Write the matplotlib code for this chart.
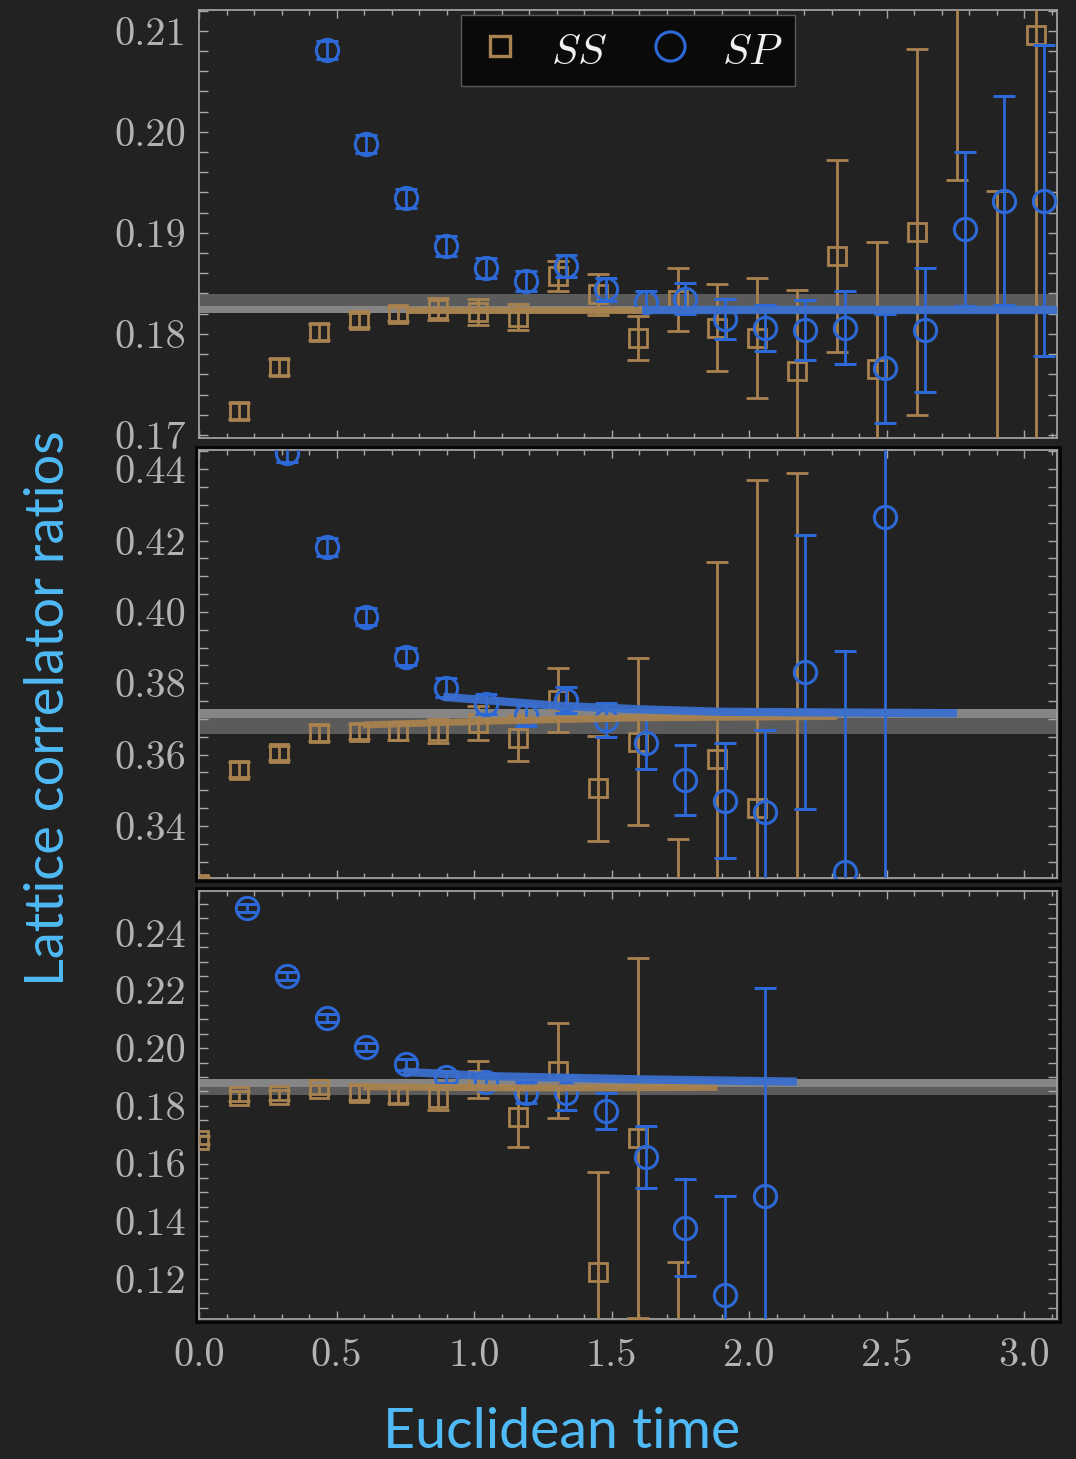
import matplotlib.pyplot as plt
from matplotlib.lines import Line2D
from matplotlib.patches import Rectangle
from matplotlib.ticker import MultipleLocator, FormatStrFormatter

plt.rcParams['mathtext.fontset'] = 'cm'
plt.rcParams['axes.formatter.use_mathtext'] = True

BG = '#222222'
TAN = '#a8824f'
BLUE = '#2d69d6'
TICK = '#b3b3b3'
LABEL = '#4fbaf5'

# ---- top panel ----
ss1_t = [0.145, 0.29, 0.435, 0.58, 0.725, 0.87, 1.015, 1.16, 1.305, 1.45, 1.595,
         1.74, 1.885, 2.03, 2.175, 2.32, 2.465, 2.61, 2.755, 2.9, 3.045]
ss1_y = [0.1724, 0.1767, 0.1802, 0.1814, 0.1820, 0.1825, 0.1822, 0.1817, 0.1857, 0.1839, 0.1796,
         0.1834, 0.1806, 0.1796, 0.1763, 0.1877, 0.1765, 0.1901, 0.2145, 0.1650, 0.2096]
ss1_e = [0.0008, 0.0008, 0.0008, 0.0007, 0.0007, 0.0011, 0.0013, 0.0013, 0.0015, 0.0020, 0.0022,
         0.0031, 0.0043, 0.0059, 0.0080, 0.0095, 0.0126, 0.0181, 0.0193, 0.0291, 0.0450]
sp1_t = [0.464, 0.609, 0.754, 0.899, 1.044, 1.189, 1.334, 1.479, 1.624, 1.769,
         1.914, 2.059, 2.204, 2.349, 2.494, 2.639, 2.784, 2.929, 3.074]
sp1_y = [0.2081, 0.1988, 0.1934, 0.1887, 0.1865, 0.1852, 0.1867, 0.1844, 0.1832, 0.1835,
         0.1815, 0.1806, 0.1804, 0.1806, 0.1766, 0.1804, 0.1904, 0.1932, 0.1932]
sp1_e = [0.0009, 0.0009, 0.0009, 0.0010, 0.0010, 0.0010, 0.0011, 0.0011, 0.0010, 0.0015,
         0.0020, 0.0023, 0.0030, 0.0036, 0.0054, 0.0061, 0.0076, 0.0103, 0.0154]
fit_ss1_t = [0.755, 1.61]
fit_ss1_y = [0.1824, 0.1824]
fit_sp1_t = [1.61, 3.2]
fit_sp1_y = [0.1824, 0.1824]
band1 = (0.18205, 0.18393)
band1_inner = (0.18205, 0.18277)

# ---- middle panel ----
ss2_t = [0.0, 0.145, 0.29, 0.435, 0.58, 0.725, 0.87, 1.015, 1.16, 1.305, 1.45,
         1.595, 1.74, 1.885, 2.03, 2.175]
ss2_y = [0.3237, 0.3557, 0.3605, 0.3660, 0.3664, 0.3666, 0.3667, 0.3688, 0.3646, 0.3753, 0.3505,
         0.3636, 0.3100, 0.3588, 0.3449, 0.3190]
ss2_e = [0.0020, 0.0021, 0.0020, 0.0023, 0.0021, 0.0026, 0.0034, 0.0047, 0.0065, 0.0090, 0.0146,
         0.0234, 0.0262, 0.0552, 0.0920, 0.1199]
sp2_t = [0.319, 0.464, 0.609, 0.754, 0.899, 1.044, 1.189, 1.334, 1.479, 1.624,
         1.769, 1.914, 2.059, 2.204, 2.349, 2.494]
sp2_y = [0.4445, 0.4183, 0.3987, 0.3875, 0.3788, 0.3742, 0.3711, 0.3753, 0.3697, 0.3633,
         0.3529, 0.3471, 0.3438, 0.3831, 0.3270, 0.4267]
sp2_e = [0.0025, 0.0025, 0.0025, 0.0025, 0.0027, 0.0027, 0.0030, 0.0037, 0.0049, 0.0072,
         0.0097, 0.0161, 0.0231, 0.0384, 0.0621, 0.1100]
fit_ss2_t = [0.596, 1.06, 1.60, 2.32]
fit_ss2_y = [0.3683, 0.3694, 0.3703, 0.3707]
fit_sp2_t = [0.888, 1.30, 1.60, 1.895, 2.756]
fit_sp2_y = [0.3762, 0.3737, 0.3727, 0.3720, 0.3716]
band2 = (0.36569, 0.3727)
band2_inner = (0.3702, 0.3727)

# ---- bottom panel ----
ss3_t = [0.0, 0.145, 0.29, 0.435, 0.58, 0.725, 0.87, 1.015, 1.16, 1.305, 1.45, 1.595, 1.74]
ss3_y = [0.1682, 0.1834, 0.1838, 0.1857, 0.1846, 0.1838, 0.1826, 0.1890, 0.1760, 0.1922,
         0.1223, 0.1688, 0.0900]
ss3_e = [0.0015, 0.0017, 0.0017, 0.0017, 0.0025, 0.0028, 0.0040, 0.0064, 0.0102, 0.0165,
         0.0349, 0.0623, 0.0360]
sp3_t = [0.174, 0.319, 0.464, 0.609, 0.754, 0.899, 1.044, 1.189, 1.334, 1.479,
         1.624, 1.769, 1.914, 2.059]
sp3_y = [0.2485, 0.2250, 0.2106, 0.2005, 0.1944, 0.1901, 0.1884, 0.1846, 0.1844, 0.1782,
         0.1622, 0.1378, 0.1145, 0.1488]
sp3_e = [0.0014, 0.0014, 0.0014, 0.0014, 0.0020, 0.0020, 0.0025, 0.0036, 0.0058, 0.0062,
         0.0107, 0.0167, 0.0344, 0.0720]
fit_ss3_t = [0.597, 1.20, 1.885]
fit_ss3_y = [0.1866, 0.1862, 0.1864]
fit_sp3_t = [0.743, 1.058, 1.592, 2.174]
fit_sp3_y = [0.1918, 0.1903, 0.1892, 0.1884]
band3 = (0.18376, 0.1892)
band3_inner = (0.18644, 0.1892)

ylims = [(0.1697, 0.21205), (0.3254, 0.4454), (0.1061, 0.2545)]
ymajor = [0.01, 0.02, 0.02]
yminor = [0.002, 0.005, 0.005]

panels = [
    (ss1_t, ss1_y, ss1_e, sp1_t, sp1_y, sp1_e, fit_ss1_t, fit_ss1_y, fit_sp1_t, fit_sp1_y, band1, band1_inner),
    (ss2_t, ss2_y, ss2_e, sp2_t, sp2_y, sp2_e, fit_ss2_t, fit_ss2_y, fit_sp2_t, fit_sp2_y, band2, band2_inner),
    (ss3_t, ss3_y, ss3_e, sp3_t, sp3_y, sp3_e, fit_ss3_t, fit_ss3_y, fit_sp3_t, fit_sp3_y, band3, band3_inner),
]

W, H = 1076, 1459
fig = plt.figure(figsize=(W / 100, H / 100), dpi=100, facecolor=BG)

# panel boxes in pixels: (top, bottom)
boxes = [(10, 438), (450, 878), (891, 1319)]
left_px, right_px = 199, 1057

axes = []
for i, (top, bot) in enumerate(boxes):
    ax = fig.add_axes([left_px / W, 1 - bot / H, (right_px - left_px) / W, (bot - top) / H])
    ax.set_facecolor(BG)
    axes.append(ax)

    (s_t, s_y, s_e, p_t, p_y, p_e, fs_t, fs_y, fp_t, fp_y, band, inner) = panels[i]

    # plateau band
    ax.axhspan(band[0], band[1], color='#5b5b5b', lw=0, zorder=1)
    ax.axhspan(inner[0], inner[1], color='#858585', lw=0, zorder=1.1)

    ax.errorbar(s_t, s_y, yerr=s_e, fmt='s', ms=13.5, mfc='none', mec=TAN, mew=2.0,
                ecolor=TAN, elinewidth=2.0, capsize=8, capthick=2.0, zorder=3)
    ax.errorbar(p_t, p_y, yerr=p_e, fmt='o', ms=16, mfc='none', mec=BLUE, mew=2.2,
                ecolor=BLUE, elinewidth=2.0, capsize=8, capthick=2.0, zorder=4)

    ax.plot(fs_t, fs_y, color=TAN, lw=5, solid_capstyle='butt', alpha=0.95, zorder=5)
    ax.plot(fp_t, fp_y, color='#3a6fce', lw=6, solid_capstyle='butt', alpha=0.95, zorder=6)

    ax.set_xlim(0, 3.12)
    ax.set_ylim(*ylims[i])

    ax.xaxis.set_major_locator(MultipleLocator(0.5))
    ax.xaxis.set_minor_locator(MultipleLocator(0.1))
    ax.yaxis.set_major_locator(MultipleLocator(ymajor[i]))
    ax.yaxis.set_minor_locator(MultipleLocator(yminor[i]))
    ax.yaxis.set_major_formatter(FormatStrFormatter('%.2f'))
    ax.xaxis.set_major_formatter(FormatStrFormatter('%.1f'))

    ax.tick_params(axis='both', which='both', direction='in', top=True, right=True,
                   color='#a8a8a8', width=1.0, labelcolor=TICK)
    ax.tick_params(axis='x', which='major', length=6)
    ax.tick_params(axis='x', which='minor', length=3.5)
    ax.tick_params(axis='y', which='both', length=6.5)
    ax.tick_params(axis='y', which='major', pad=9, labelsize=29, labelfontfamily='cmr10')
    ax.tick_params(axis='x', which='major', pad=14, labelsize=29, labelfontfamily='cmr10',
                   labelbottom=(i == 2))
    for sp in ax.spines.values():
        sp.set_color('#a0a0a0')
        sp.set_linewidth(1.3)

    if i > 0:
        # dark outer frame around the lower panels
        ax.add_patch(Rectangle((-0.004, -0.008), 1.008, 1.016, transform=ax.transAxes,
                               fill=False, ec='#050505', lw=2, clip_on=False, zorder=0))

# legend in the top panel
handles = [
    Line2D([], [], ls='none', marker='s', ms=14, mfc='none', mec=TAN, mew=2.4),
    Line2D([], [], ls='none', marker='o', ms=21, mfc='none', mec=BLUE, mew=2.2),
]
leg = axes[0].legend(handles, ['$SS$', '$SP$'], ncol=2, loc='upper left',
                     bbox_to_anchor=((461 - left_px) / (right_px - left_px), (438 - 15) / 428),
                     fontsize=31, frameon=True, fancybox=False, framealpha=1,
                     facecolor='#0a0a0a', edgecolor='#5a5a5a', borderpad=0.3,
                     handlelength=1.2, handleheight=1.15, handletextpad=0.6,
                     columnspacing=0.85, borderaxespad=0)
for txt in leg.get_texts():
    txt.set_color('#f0f0f0')
leg.set_zorder(10)

fig.text(49 / W, 1 - 708 / H, 'Lattice correlator ratios', rotation=90, ha='center', va='center',
         family='Lato', fontsize=39, color=LABEL)
fig.text(562 / W, 1 - 1458 / H, 'Euclidean time', ha='center', va='bottom',
         family='Lato', fontsize=40, color=LABEL)

fig.savefig('out.png', dpi=100, facecolor=BG)
